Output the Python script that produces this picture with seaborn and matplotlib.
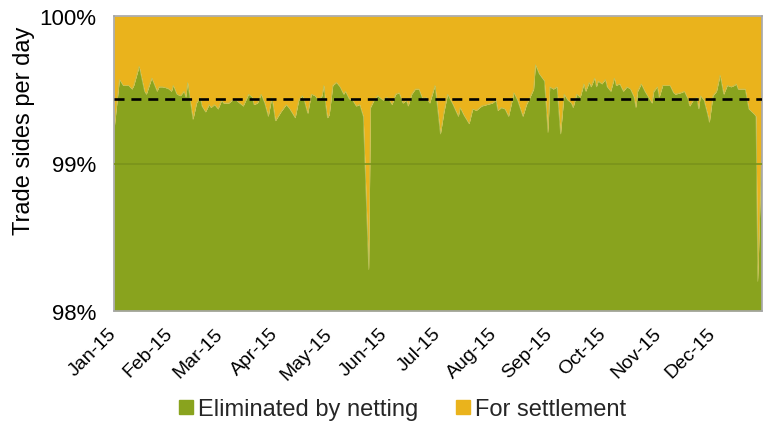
import matplotlib
matplotlib.use("Agg")
import matplotlib.pyplot as plt
import matplotlib.dates as mdates
from matplotlib.lines import Line2D
import numpy as np
import pandas as pd
import seaborn as sns

# ---- data ----
day_offset = [
    0, 3, 5, 8, 10, 11, 14, 17, 18, 21, 24, 25, 27, 30, 32, 33, 35, 37,
    39, 40, 41, 42, 44, 46, 48, 49, 51, 53, 54, 56, 58, 60, 61, 64, 66, 68, 70, 72,
    75, 77, 78, 80, 82, 84, 86, 88, 90, 93, 96, 98, 101, 103, 105, 106, 108, 110, 112, 114,
    116, 117, 118, 119, 120, 122, 124, 126, 128, 129, 131, 133, 135, 137, 139, 142, 143, 145, 147, 150,
    152, 153, 155, 157, 159, 161, 163, 164, 166, 168, 170, 172, 174, 176, 179, 182, 184, 186, 189, 192,
    193, 195, 198, 200, 202, 205, 208, 211, 213, 214, 216, 218, 220, 223, 225, 228, 230, 232, 234, 235,
    237, 240, 242, 243, 245, 247, 249, 251, 253, 255, 256, 258, 260, 262, 263, 265, 266, 268, 269, 270,
    272, 274, 275, 277, 279, 280, 282, 284, 286, 288, 290, 291, 292, 294, 296, 298, 300, 301, 303, 304,
    306, 308, 310, 312, 313, 316, 318, 320, 321, 323, 325, 326, 327, 329, 331, 332, 334, 336, 338, 340,
    342, 344, 346, 347, 348, 350, 352, 354, 357, 358, 359, 361,
]
eliminated_pct = [
    99.23, 99.57, 99.53, 99.53, 99.505, 99.53, 99.66, 99.49, 99.47, 99.58, 99.49, 99.52, 99.52, 99.51, 99.49, 99.53, 99.47, 99.46,
    99.49, 99.45, 99.55, 99.47, 99.30, 99.41, 99.45, 99.39, 99.35, 99.40, 99.38, 99.40, 99.37, 99.43, 99.41, 99.41, 99.43, 99.43, 99.41, 99.39,
    99.47, 99.45, 99.40, 99.41, 99.47, 99.41, 99.32, 99.45, 99.29, 99.35, 99.40, 99.37, 99.31, 99.43, 99.46, 99.43, 99.34, 99.47, 99.46, 99.43,
    99.46, 99.53, 99.40, 99.31, 99.33, 99.53, 99.55, 99.52, 99.47, 99.49, 99.44, 99.43, 99.39, 99.40, 99.32, 98.28, 99.38, 99.43, 99.46, 99.43,
    99.45, 99.44, 99.40, 99.47, 99.48, 99.41, 99.43, 99.39, 99.47, 99.505, 99.505, 99.44, 99.45, 99.41, 99.53, 99.20, 99.35, 99.47, 99.40, 99.32,
    99.38, 99.33, 99.27, 99.37, 99.36, 99.39, 99.40, 99.41, 99.43, 99.36, 99.38, 99.37, 99.32, 99.48, 99.43, 99.32, 99.40, 99.45, 99.505, 99.67,
    99.61, 99.56, 99.21, 99.52, 99.505, 99.52, 99.20, 99.47, 99.43, 99.41, 99.38, 99.47, 99.45, 99.54, 99.49, 99.55, 99.52, 99.58, 99.52, 99.56,
    99.54, 99.57, 99.52, 99.49, 99.58, 99.53, 99.54, 99.49, 99.52, 99.505, 99.45, 99.38, 99.49, 99.54, 99.49, 99.45, 99.41, 99.49, 99.52, 99.45,
    99.53, 99.53, 99.53, 99.48, 99.47, 99.48, 99.49, 99.44, 99.39, 99.43, 99.45, 99.37, 99.46, 99.43, 99.335, 99.28, 99.46, 99.49, 99.60, 99.47,
    99.53, 99.52, 99.53, 99.54, 99.505, 99.505, 99.505, 99.37, 99.335, 99.32, 98.20, 99.05,
]
average_pct = 99.44
y_ticks = [98, 99, 100]
y_tick_labels = ["98%", "99%", "100%"]
series_names = ["Eliminated by netting", "For settlement"]
y_label = "Trade sides per day"

GREEN = "#89a31e"
YELLOW = "#eab31c"

start = pd.Timestamp("2015-01-01")
df = pd.DataFrame({
    "date": start + pd.to_timedelta(day_offset, unit="D"),
    "eliminated": eliminated_pct,
})

sns.set_theme(style="white")
plt.rcParams["font.family"] = ["Liberation Sans", "DejaVu Sans"]

fig = plt.figure(figsize=(7.64, 4.27), dpi=100)
ax = fig.add_axes([114 / 764, 1 - 312 / 427, 648 / 764, 295 / 427])

ax.fill_between(df["date"], 98, df["eliminated"], color=GREEN, lw=0, zorder=1)
ax.fill_between(df["date"], df["eliminated"], 100, color=YELLOW, lw=0, zorder=1)
sns.lineplot(data=df, x="date", y="eliminated", color="#b9c25a", lw=0.4, ax=ax, zorder=2)

ax.axhline(99, color="#7a931b", lw=1.2, zorder=3)
ax.axhline(average_pct, color="black", lw=1.9, dashes=(3.8, 2.6), zorder=4)

ax.set_ylim(98, 100)
ax.set_xlim(start, start + pd.Timedelta(days=361.4))
ax.set_yticks(y_ticks)
ax.set_yticklabels(y_tick_labels, fontsize=16)
month_ticks = pd.date_range("2015-01-01", periods=12, freq="MS")
ax.set_xticks(month_ticks)
ax.xaxis.set_major_formatter(mdates.DateFormatter("%b-%y"))
for lbl in ax.get_xticklabels():
    lbl.set_rotation(45)
    lbl.set_ha("right")
    lbl.set_va("center")
    lbl.set_rotation_mode("anchor")
    lbl.set_fontsize(14)
ax.tick_params(axis="x", length=0, pad=14, colors="#000000")
ax.tick_params(axis="y", length=0, pad=13, colors="#000000")
ax.set_xlabel("")
ax.set_ylabel(y_label, fontsize=17, color="black")
ax.yaxis.set_label_coords(-0.122, 0.614)

for s in ax.spines.values():
    s.set_color("#a6a6a6")
    s.set_linewidth(1.2)
    s.set_visible(True)

handles = [
    Line2D([], [], marker="s", color="none", markerfacecolor=GREEN, markeredgecolor=GREEN, markersize=10),
    Line2D([], [], marker="s", color="none", markerfacecolor=YELLOW, markeredgecolor=YELLOW, markersize=10),
]
fig.legend(handles, series_names, loc="center", bbox_to_anchor=(0.527, 0.04), ncol=2,
           frameon=False, fontsize=17, handlelength=0.6, handletextpad=0.2, columnspacing=1.6)

fig.savefig("out.png", dpi=100)
